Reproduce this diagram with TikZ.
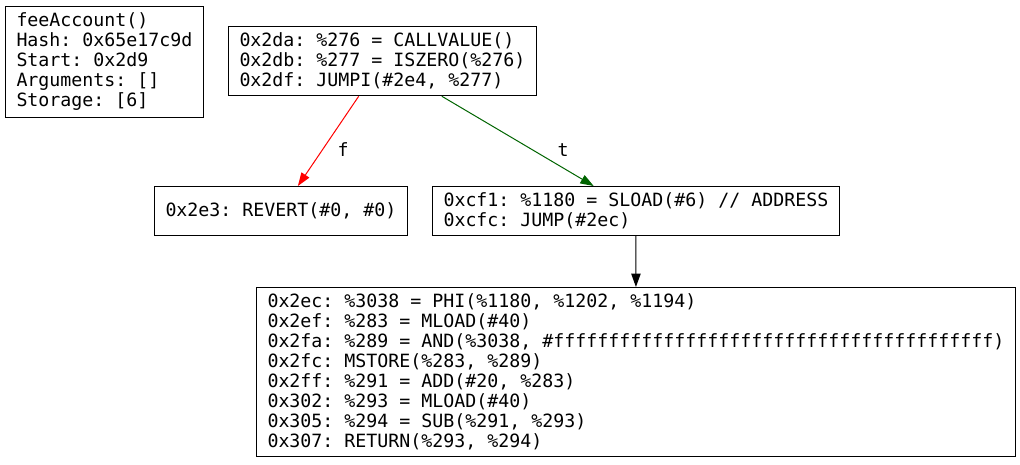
\documentclass[tikz,border=0pt]{standalone}
\usepackage{fontspec}
\setmonofont{DejaVu Sans Mono}
\usetikzlibrary{arrows.meta}
\definecolor{edgegreen}{RGB}{0,100,0}
\tikzset{
	block/.style={draw, line width=0.75pt, align=left, anchor=north west, inner xsep=8.25pt, inner ysep=4.8pt, font=\ttfamily\fontsize{13.7}{15}\selectfont},
	flow/.style={line width=0.75pt, -{Triangle[length=10pt, width=7pt]}},
	lbl/.style={font=\ttfamily\fontsize{13.7}{15}\selectfont}
}
\begin{document}
\begin{tikzpicture}[x=0.75pt, y=-0.75pt]
				\useasboundingbox (0,0) rectangle (1020,464);
				%function info
				\node[block] (info) at (5, 6){feeAccount()\\Hash: 0x65e17c9d\\Start: 0x2d9\\Arguments: []\\Storage: [6]};
				
				%blocks
				\node[block] (entry) at (228, 26){0x2da: \%276 = CALLVALUE()\\0x2db: \%277 = ISZERO(\%276)\\0x2df: JUMPI(\#2e4, \%277)};
				\node[block, minimum height=36.75pt] (revert) at (154, 186){0x2e3: REVERT(\#0, \#0)};
				\node[block] (sload) at (432, 186){0xcf1: \%1180 = SLOAD(\#6) // ADDRESS\\0xcfc: JUMP(\#2ec)};
				\node[block] (tail) at (256, 287){0x2ec: \%3038 = PHI(\%1180, \%1202, \%1194)\\0x2ef: \%283 = MLOAD(\#40)\\0x2fa: \%289 = AND(\%3038, \#ffffffffffffffffffffffffffffffffffffffff)\\0x2fc: MSTORE(\%283, \%289)\\0x2ff: \%291 = ADD(\#20, \%283)\\0x302: \%293 = MLOAD(\#40)\\0x305: \%294 = SUB(\%291, \%293)\\0x307: RETURN(\%293, \%294)};
				
				%edges
				\draw[flow, red] (entry) -- (revert);
				\draw[flow, edgegreen] (entry) -- (sload);
				\draw[flow] (sload) -- (tail);
				\node[lbl] (lblf) at (343, 150){f};
				\node[lbl] (lblt) at (563, 150){t};
\end{tikzpicture}
\end{document}
